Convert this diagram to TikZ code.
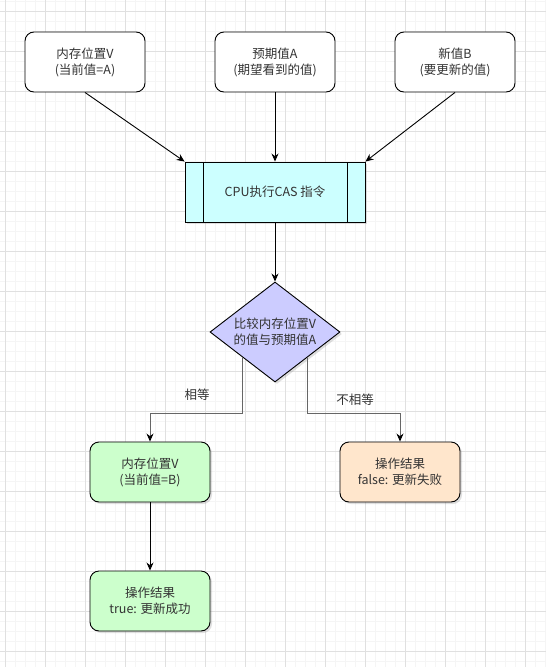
\documentclass[tikz,border=0pt]{standalone}
\usepackage{fontspec}
\setmainfont{Noto Sans CJK SC}
\definecolor{textgray}{RGB}{51, 51, 51}
\definecolor{edgegray}{RGB}{102, 102, 102}
\definecolor{cpucyan}{RGB}{204, 255, 255}
\definecolor{cmpviolet}{RGB}{204, 204, 255}
\definecolor{okgreen}{RGB}{204, 255, 204}
\definecolor{failorange}{RGB}{255, 230, 204}
\definecolor{gridminor}{RGB}{245, 245, 245}
\definecolor{gridmajor}{RGB}{224, 224, 224}
\usetikzlibrary{positioning, arrows.meta, shapes.geometric, shadows}

\begin{document}
\begin{tikzpicture}[
    x=1pt, y=-1pt,
    font=\fontsize{12.5}{16}\selectfont, text=textgray,
    shade/.style={drop shadow={opacity=0.25, shadow xshift=2pt, shadow yshift=-2pt}},
    inbox/.style={draw=black, fill=white, rounded corners=9pt, line width=0.9pt,
                minimum width=120pt, minimum height=60pt, align=center, inner sep=2pt},
    resbox/.style={inbox, shade},
    cpubox/.style={draw=black, fill=cpucyan, line width=0.9pt, shade,
                minimum width=180pt, minimum height=60pt, align=center,
                path picture={
                  \draw[line width=0.9pt]
                    ([xshift=18pt]path picture bounding box.north west) --
                    ([xshift=18pt]path picture bounding box.south west);
                  \draw[line width=0.9pt]
                    ([xshift=-18pt]path picture bounding box.north east) --
                    ([xshift=-18pt]path picture bounding box.south east);}},
    cmpbox/.style={diamond, draw=black, fill=cmpviolet, line width=0.9pt, shade,
                shape aspect=1.3, minimum width=130pt, minimum height=100pt,
                inner sep=0pt, align=center},
    arr/.style={-{Stealth[length=8pt, width=7pt, black]}, line width=0.9pt, black},
    garr/.style={arr, draw=edgegray},
    lbl/.style={font=\fontsize{12.5}{14}\selectfont, text=textgray},
  ]
    \useasboundingbox (0,0) rectangle (546,667);
    %% Background grid: minor every 10, major every 40
    \foreach \gx in {5,15,...,545} \draw[gridminor, line width=0.6pt] (\gx,0) -- (\gx,667);
    \foreach \gy in {1.7,11.7,...,667} \draw[gridminor, line width=0.6pt] (0,\gy) -- (546,\gy);
    \foreach \gx in {5,45,...,545} \draw[gridmajor, line width=0.7pt] (\gx,0) -- (\gx,667);
    \foreach \gy in {11.7,51.7,...,667} \draw[gridmajor, line width=0.7pt] (0,\gy) -- (546,\gy);

    %% Inputs
    \node[inbox] (mem)    at (85,  62) {内存位置V\\(当前值=A)};
    \node[inbox] (expect) at (275, 62) {预期值A\\(期望看到的值)};
    \node[inbox] (newval) at (455, 62) {新值B\\(要更新的值)};

    \node[cpubox] (cpu) at (275, 192) {CPU执行CAS 指令};
    \node[cmpbox] (cmp) at (275, 332) {比较内存位置V\\的值与预期值A};

    %% Outcomes
    \node[resbox, fill=okgreen]    (same) at (150, 472) {内存位置V\\(当前值=B)};
    \node[resbox, fill=failorange] (fail) at (400, 472) {操作结果\\false: 更新失败};
    \node[resbox, fill=okgreen]    (ok)   at (150, 601) {操作结果\\true: 更新成功};

    \node[lbl] (eqlbl)  at (197, 395) {相等};
    \node[lbl] (neqlbl) at (355, 400) {不相等};

    \draw[arr] (mem.south) -- (cpu.north west);
    \draw[arr] (expect) -- (cpu);
    \draw[arr] (newval.south) -- (cpu.north east);
    \draw[arr] (cpu) -- (cmp);
    \draw[garr] (cmp.south west) -- ++(0,56) -| (same.north);
    \draw[garr] (cmp.south east) -- ++(0,56) -| (fail.north);
    \draw[arr] (same) -- (ok);
  \end{tikzpicture}
\end{document}
